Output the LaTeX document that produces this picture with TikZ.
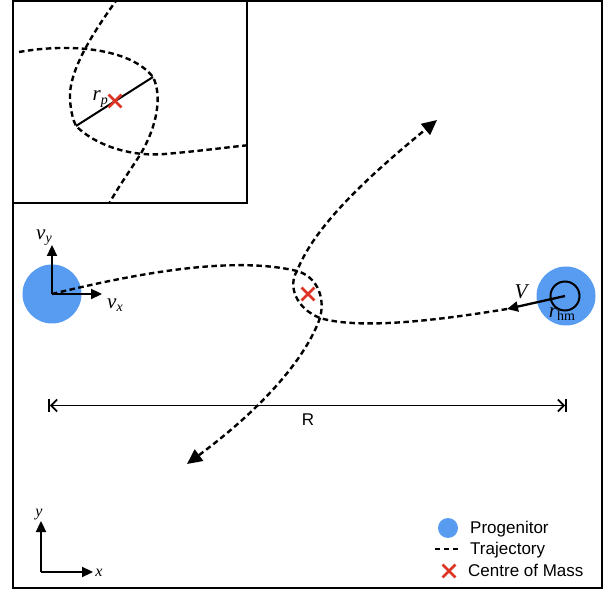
\documentclass[tikz,border=0pt]{standalone}
\usepackage{fontspec}
\setmainfont{Liberation Serif}
\newfontfamily\lsans{Liberation Sans}
\usetikzlibrary{arrows.meta,shapes.misc}
\definecolor{progblue}{RGB}{88,156,242}
\definecolor{comred}{RGB}{222,52,38}
\newcommand\mlb[2]{\textit{#1}\raisebox{-0.35ex}{\fontsize{14}{14}\selectfont #2}}
\begin{document}
\begin{tikzpicture}[x=1pt,y=-1pt,
  frame/.style={draw=black, line width=2pt},
  progbig/.style={circle, fill=progblue, minimum size=59pt, inner sep=0pt},
  progsmall/.style={circle, fill=progblue, minimum size=20pt, inner sep=0pt},
  hmring/.style={circle, draw=black, line width=2pt, minimum size=29pt, inner sep=0pt},
  traj/.style={dash pattern=on 5.5pt off 3.5pt, line width=2.4pt},
  trajtip/.style={-{Triangle[length=15pt,width=14pt]}},
  vec/.style={line width=2.3pt, -{Triangle[length=11pt,width=10pt]}},
  comx/.style={cross out, draw=comred, line width=2.8pt, minimum size=10pt, inner sep=0pt},
  mlab/.style={font=\fontsize{21}{21}\selectfont, inner sep=0pt},
  axlab/.style={font=\fontsize{16}{16}\selectfont\itshape, inner sep=0pt},
  leg/.style={font=\fontsize{17}{17}\selectfont\lsans, inner sep=0pt, anchor=base west}
]
\useasboundingbox (0,0) rectangle (608,593);
\fill[white] (0,0) rectangle (608,593);

% main frame
\draw[frame] (13,1) rectangle (602,588);

% progenitors
\node[progbig] (P1) at (52,294) {};
\node[progbig] (P2) at (566,296) {};
\node[hmring] (HM) at (565,296) {};

% centre of mass
\node[comx] (CM) at (308,294) {};

% trajectory coordinates
\coordinate (X1) at (297,271);
\coordinate (X2) at (320,318);
\coordinate (T1) at (437,120);
\coordinate (T2) at (187,464);
\coordinate (Vtip) at (507,309);

% trajectories
\draw[traj, trajtip] (P1.center) .. controls (130,275) and (230,255) .. (X1)
  .. controls (315,276) and (326,295) .. (X2)
  .. controls (305,360) and (260,410) .. (T2);
\draw[traj, trajtip] (Vtip) .. controls (440,320) and (360,330) .. (X2)
  .. controls (295,308) and (288,285) .. (X1)
  .. controls (315,225) and (370,175) .. (T1);

% velocity vectors
\coordinate (VY) at (52,245);
\coordinate (VX) at (102,294);
\draw[vec] (P1.center) -- (VY);
\draw[vec] (P1.center) -- (VX);
\node[mlab] (lvy) at (44,238) {\mlb{v}{\textit{y}}};
\node[mlab] (lvx) at (115,305) {\mlb{v}{\textit{x}}};
\draw[vec] (HM.center) -- (Vtip);
\node[mlab] (lV) at (522,292) {\textit{V}};
\node[mlab] (lrhm) at (562,314) {\mlb{r}{hm}};

% R dimension
\coordinate (RL) at (48,405.5);
\coordinate (RR) at (567,405.5);
\draw[line width=1.8pt, {Bar[width=13pt]Straight Barb[length=6pt,width=12pt]}-{Straight Barb[length=6pt,width=12pt]Bar[width=13pt]}] (RL) -- (RR);
\node[font=\fontsize{17}{17}\selectfont\lsans, inner sep=0pt, anchor=base] (lR) at (308,426) {R};

% axes
\coordinate (O) at (41,572);
\coordinate (AY) at (41,521);
\coordinate (AX) at (93,572);
\draw[vec] (O) -- (AY);
\draw[vec] (O) -- (AX);
\node[axlab] (ly) at (39,515) {y};
\node[axlab] (lx) at (99,573) {x};

% legend
\node[progsmall] (Lp) at (448,528) {};
\node[leg] (Lpt) at (470,533) {Progenitor};
\coordinate (Ld1) at (435,549);
\coordinate (Ld2) at (458,549);
\draw[dash pattern=on 5pt off 4pt, line width=2.2pt] (Ld1) -- (Ld2);
\node[leg] (Ldt) at (470,554) {Trajectory};
\node[comx] (Lc) at (449,571) {};
\node[leg] (Lct) at (468,576) {Centre of Mass};

% inset
\begin{scope}
\clip (13,1) rectangle (247,203);
\fill[white] (13,1) rectangle (247,203);
\draw[traj] (19,52) .. controls (70,43) and (130,48) .. (153,77)
  .. controls (162,95) and (158,125) .. (140,155)
  .. controls (125,178) and (115,192) .. (108,206);
\draw[traj] (118,-2) .. controls (95,30) and (68,70) .. (70,100)
  .. controls (71,112) and (73,120) .. (76,126)
  .. controls (95,145) and (130,157) .. (165,154)
  .. controls (200,151) and (230,147) .. (250,145);
\coordinate (RPa) at (76,126);
\coordinate (RPb) at (153,77);
\draw[line width=2pt] (RPa) -- (RPb);
\node[comx] (ICM) at (115,101) {};
\node[mlab, anchor=base east] (lrp) at (108,101) {\mlb{r}{\textit{p}}};
\end{scope}
\draw[frame] (13,1) rectangle (247,203);
\end{tikzpicture}
\end{document}
